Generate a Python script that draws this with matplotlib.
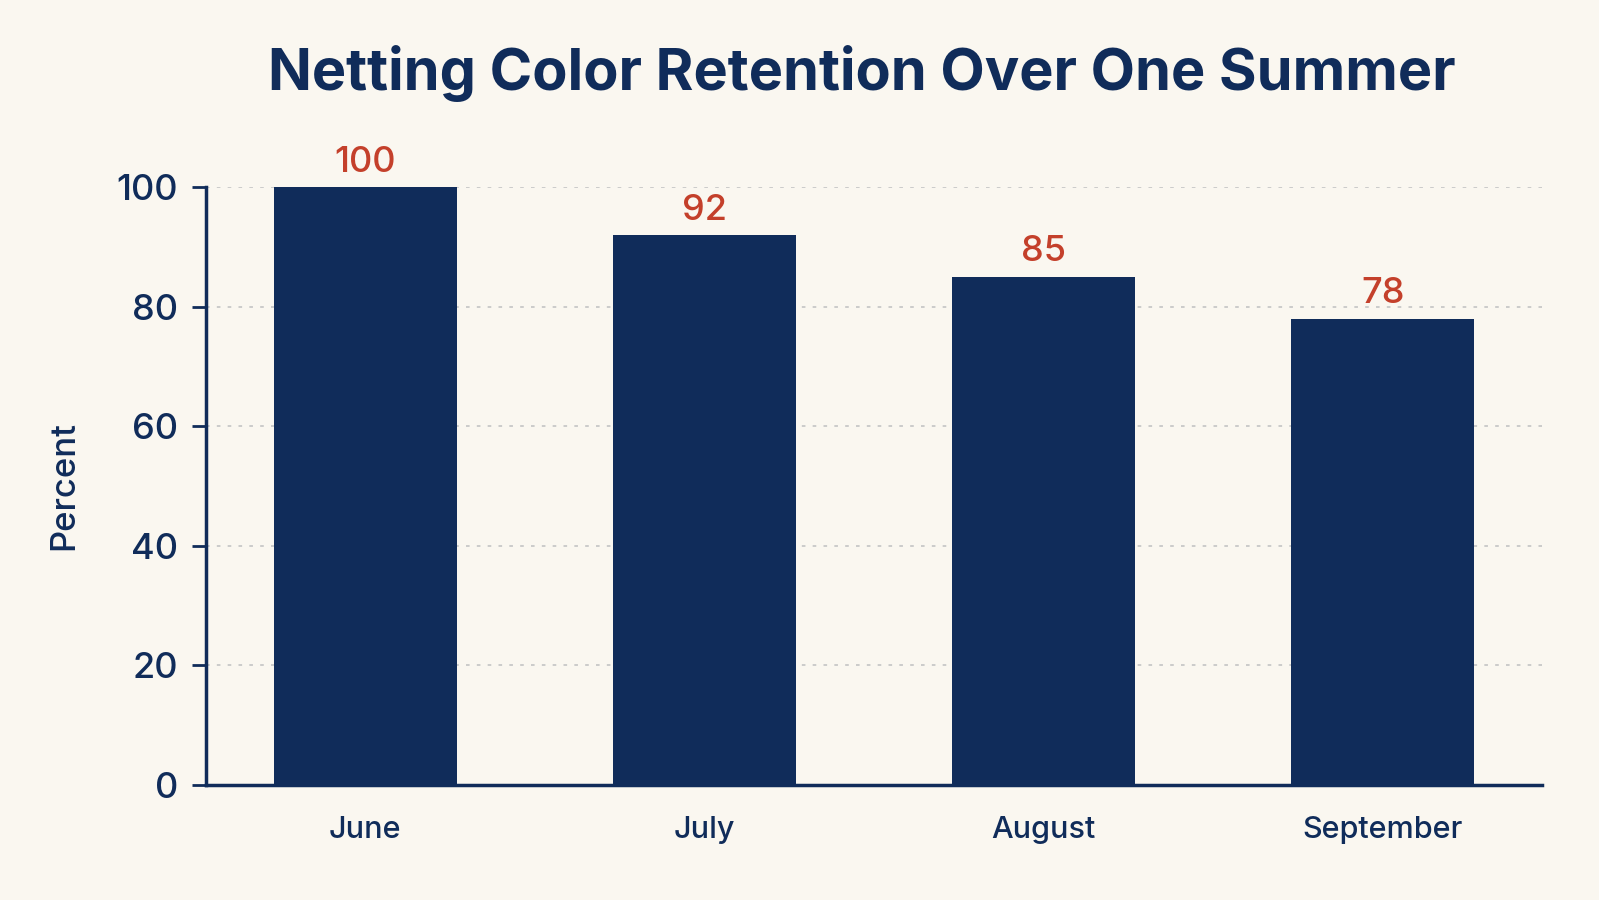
import matplotlib.pyplot as plt

months = ["June", "July", "August", "September"]
retention = [100, 92, 85, 78]
y_ticks = [0, 20, 40, 60, 80, 100]

navy = "#102c5a"
red = "#c4402b"
bg = "#faf7f0"

plt.rcParams["font.family"] = ["Inter", "DejaVu Sans"]

fig = plt.figure(figsize=(15.99, 9), dpi=100, facecolor=bg)
ax = fig.add_axes([0.1288, 0.1278, 0.8356, 0.6644], facecolor=bg)

x = range(len(months))
ax.bar(x, retention, width=0.54, color=navy, zorder=3)

# value labels above the bars
for xi, v in zip(x, retention):
    ax.annotate(str(v), (xi, v), xytext=(0, 6), textcoords="offset points",
                ha="center", va="bottom", fontsize=26, color=red,
                fontweight="medium")

ax.set_xlim(-0.47, len(months) - 0.53)
ax.set_ylim(0, 100)
ax.set_yticks(y_ticks)
ax.set_yticklabels([str(t) for t in y_ticks], fontsize=26, color=navy,
                   fontweight="medium")
ax.set_xticks(list(x))
ax.set_xticklabels(months, fontsize=22, color=navy, fontweight="medium")

ax.tick_params(axis="y", length=10, width=2, color=navy, pad=10)
ax.tick_params(axis="x", length=0, pad=22)

ax.grid(axis="y", linestyle=(0, (2, 4)), color="#c8c8c8", linewidth=1.3)
ax.set_axisbelow(True)

for side in ["top", "right"]:
    ax.spines[side].set_visible(False)
ax.spines["left"].set_color(navy)
ax.spines["left"].set_linewidth(2.5)
ax.spines["bottom"].set_color(navy)
ax.spines["bottom"].set_linewidth(2.5)

ax.set_ylabel("Percent", fontsize=25, color=navy, fontweight="medium",
              labelpad=26)

fig.text(0.539, 0.918, "Netting Color Retention Over One Summer",
         ha="center", va="center", fontsize=41.5, fontweight="bold", color=navy)

fig.savefig("out.png", dpi=100, facecolor=bg)
